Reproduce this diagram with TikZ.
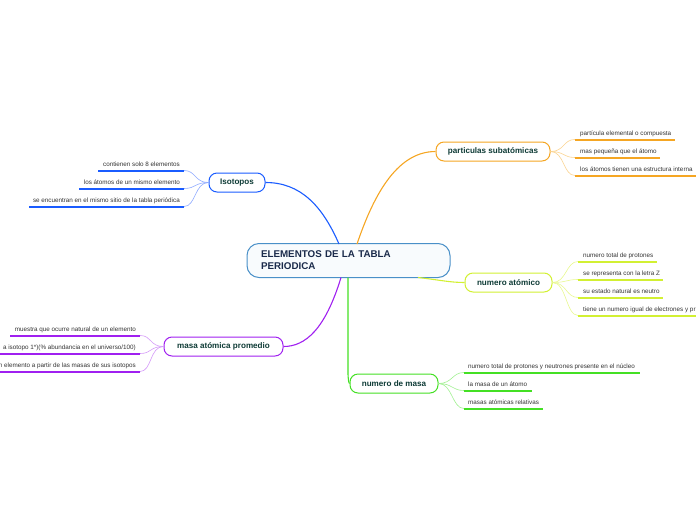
\documentclass[tikz,border=0pt]{standalone}
\usepackage{fontspec}
\setmainfont{Liberation Sans}
\definecolor{corange}{HTML}{F5A623}
\definecolor{corangel}{HTML}{FAD38F}
\definecolor{cblue}{HTML}{1A5CFF}
\definecolor{cbluel}{HTML}{8FAAFF}
\definecolor{cyel}{HTML}{D2F032}
\definecolor{cyell}{HTML}{E8F890}
\definecolor{cgreen}{HTML}{44E024}
\definecolor{cgreenl}{HTML}{A0F090}
\definecolor{cpurp}{HTML}{A020F0}
\definecolor{cpurpl}{HTML}{D49AF8}
\definecolor{ccent}{HTML}{4A90C8}
\definecolor{ctxt}{HTML}{0E3B36}
\definecolor{cnavy}{HTML}{1A2A4A}
\definecolor{cgray}{HTML}{333333}
\tikzset{
  mainbox/.style={draw, line width=1pt, rounded corners=8pt, fill=white, text=ctxt,
    font=\fontsize{8.1}{9}\selectfont\bfseries, minimum height=19pt, inner xsep=3pt, anchor=center},
  leaf/.style={text=cgray, font=\fontsize{6.3}{7}\selectfont, inner sep=0pt},
  uline/.style={line width=2pt},
  branch/.style={line width=1.1pt},
  twig/.style={line width=0.6pt},
}
\begin{document}
\begin{tikzpicture}[x=1pt,y=-1pt]
\useasboundingbox (0,0) rectangle (696,520);
% central
\node[draw=ccent, line width=1pt, rounded corners=12pt, fill=ccent!4, text=cnavy,
  minimum width=203pt, minimum height=34pt, align=left, text width=175pt,
  font=\fontsize{9.8}{12}\selectfont\bfseries] (c) at (348.5,260.5) {ELEMENTOS DE LA TABLA\\PERIODICA};

% main boxes
\node[mainbox, draw=corange, minimum width=114pt] (ps) at (493,151.5) {particulas subatómicas};
\node[mainbox, draw=cblue, minimum width=56pt] (iso) at (237,182.5) {Isotopos};
\node[mainbox, draw=cyel, minimum width=87pt] (na) at (508.5,282.5) {numero atómico};
\node[mainbox, draw=cgreen, minimum width=88pt] (nm) at (394,383.5) {numero de masa};
\node[mainbox, draw=cpurp, minimum width=119pt] (map) at (223.5,346.5) {masa atómica promedio};

% branches from central
\draw[branch, corange] (357,244) .. controls (372,200) and (395,151.5) .. (ps.west);
\draw[branch, cblue] (339,244) .. controls (322,205) and (300,182.5) .. (iso.east);
\draw[branch, cyel] (418,277.5) .. controls (440,280) and (450,282.5) .. (na.west);
\draw[branch, cgreen] (348,277.5) -- (348,372) .. controls (348,380) and (349,383.5) .. (nm.west);
\draw[branch, cpurp] (341,277.5) .. controls (325,330) and (305,346.5) .. (map.east);

% particulas subatomicas leaves
\coordinate (p1a) at (575,139.5); \coordinate (p1b) at (675,139.5);
\coordinate (p2a) at (575,157.5); \coordinate (p2b) at (660,157.5);
\coordinate (p3a) at (575,175.5); \coordinate (p3b) at (696,175.5);
\draw[twig, draw=corangel] (ps.east) .. controls +(14,0) and +(-12,0) .. (p1a);
\draw[twig, draw=corangel] (ps.east) .. controls +(14,0) and +(-12,0) .. (p2a);
\draw[twig, draw=corangel] (ps.east) .. controls +(14,0) and +(-12,0) .. (p3a);
\draw[uline, draw=corange] (p1a) -- (p1b);
\draw[uline, draw=corange] (p2a) -- (p2b);
\draw[uline, draw=corange] (p3a) -- (p3b);
\node[leaf, anchor=base west] (pt1) at ([shift={(5,-4.5)}]p1a) {partícula elemental o compuesta};
\node[leaf, anchor=base west] (pt2) at ([shift={(5,-4.5)}]p2a) {mas pequeña que el átomo};
\node[leaf, anchor=base west] (pt3) at ([shift={(5,-4.5)}]p3a) {los átomos tienen una estructura interna};

% isotopos leaves
\coordinate (i1a) at (184,170.5); \coordinate (i1b) at (98,170.5);
\coordinate (i2a) at (184,188.5); \coordinate (i2b) at (79,188.5);
\coordinate (i3a) at (184,206.5); \coordinate (i3b) at (29,206.5);
\draw[twig, draw=cbluel] (iso.west) .. controls +(-14,0) and +(12,0) .. (i1a);
\draw[twig, draw=cbluel] (iso.west) .. controls +(-14,0) and +(12,0) .. (i2a);
\draw[twig, draw=cbluel] (iso.west) .. controls +(-14,0) and +(12,0) .. (i3a);
\draw[uline, draw=cblue] (i1a) -- (i1b);
\draw[uline, draw=cblue] (i2a) -- (i2b);
\draw[uline, draw=cblue] (i3a) -- (i3b);
\node[leaf, anchor=base east] (it1) at ([shift={(-4,-4.5)}]i1a) {contienen solo 8 elementos};
\node[leaf, anchor=base east] (it2) at ([shift={(-4,-4.5)}]i2a) {los átomos de un mismo elemento};
\node[leaf, anchor=base east] (it3) at ([shift={(-4,-4.5)}]i3a) {se encuentran en el mismo sitio de la tabla periódica};

% numero atomico leaves
\coordinate (n1a) at (578,261.5); \coordinate (n1b) at (657,261.5);
\coordinate (n2a) at (578,279.5); \coordinate (n2b) at (663,279.5);
\coordinate (n3a) at (578,297.5); \coordinate (n3b) at (663,297.5);
\coordinate (n4a) at (578,315.5); \coordinate (n4b) at (696,315.5);
\draw[twig, draw=cyell] (na.east) .. controls +(14,0) and +(-12,0) .. (n1a);
\draw[twig, draw=cyell] (na.east) .. controls +(14,0) and +(-12,0) .. (n2a);
\draw[twig, draw=cyell] (na.east) .. controls +(14,0) and +(-12,0) .. (n3a);
\draw[twig, draw=cyell] (na.east) .. controls +(14,0) and +(-12,0) .. (n4a);
\draw[uline, draw=cyel] (n1a) -- (n1b);
\draw[uline, draw=cyel] (n2a) -- (n2b);
\draw[uline, draw=cyel] (n3a) -- (n3b);
\draw[uline, draw=cyel] (n4a) -- (n4b);
\node[leaf, anchor=base west] (nt1) at ([shift={(5,-4.5)}]n1a) {numero total de protones};
\node[leaf, anchor=base west] (nt2) at ([shift={(5,-4.5)}]n2a) {se representa con la letra Z};
\node[leaf, anchor=base west] (nt3) at ([shift={(5,-4.5)}]n3a) {su estado natural es neutro};
\node[leaf, anchor=base west] (nt4) at ([shift={(5,-4.5)}]n4a) {tiene un numero igual de electrones y pr};

% numero de masa leaves
\coordinate (m1a) at (464,372.5); \coordinate (m1b) at (640,372.5);
\coordinate (m2a) at (464,390.5); \coordinate (m2b) at (532,390.5);
\coordinate (m3a) at (464,408.5); \coordinate (m3b) at (543,408.5);
\draw[twig, draw=cgreenl] (nm.east) .. controls +(14,0) and +(-12,0) .. (m1a);
\draw[twig, draw=cgreenl] (nm.east) .. controls +(14,0) and +(-12,0) .. (m2a);
\draw[twig, draw=cgreenl] (nm.east) .. controls +(14,0) and +(-12,0) .. (m3a);
\draw[uline, draw=cgreen] (m1a) -- (m1b);
\draw[uline, draw=cgreen] (m2a) -- (m2b);
\draw[uline, draw=cgreen] (m3a) -- (m3b);
\node[leaf, anchor=base west] (mt1) at ([shift={(4,-4.5)}]m1a) {numero total de protones y neutrones presente en el núcleo};
\node[leaf, anchor=base west] (mt2) at ([shift={(4,-4.5)}]m2a) {la masa de un átomo};
\node[leaf, anchor=base west] (mt3) at ([shift={(4,-4.5)}]m3a) {masas atómicas relativas};

% masa atomica promedio leaves
\coordinate (a1a) at (140,335.5); \coordinate (a1b) at (10,335.5);
\coordinate (a2a) at (140,353.5); \coordinate (a2b) at (0,353.5);
\coordinate (a3a) at (140,371.5); \coordinate (a3b) at (0,371.5);
\draw[twig, draw=cpurpl] (map.west) .. controls +(-14,0) and +(12,0) .. (a1a);
\draw[twig, draw=cpurpl] (map.west) .. controls +(-14,0) and +(12,0) .. (a2a);
\draw[twig, draw=cpurpl] (map.west) .. controls +(-14,0) and +(12,0) .. (a3a);
\draw[uline, draw=cpurp] (a1a) -- (a1b);
\draw[uline, draw=cpurp] (a2a) -- (a2b);
\draw[uline, draw=cpurp] (a3a) -- (a3b);
\node[leaf, anchor=base east] (at1) at ([shift={(-4,-4.5)}]a1a) {muestra que ocurre natural de un elemento};
\node[leaf, anchor=base east] (at2) at ([shift={(-4,-4.5)}]a2a) {a isotopo 1*)(\% abundancia en el universo/100)};
\node[leaf, anchor=base east] (at3) at ([shift={(-4,-4.5)}]a3a) {n elemento a partir de las masas de sus isotopos};
\end{tikzpicture}
\end{document}
